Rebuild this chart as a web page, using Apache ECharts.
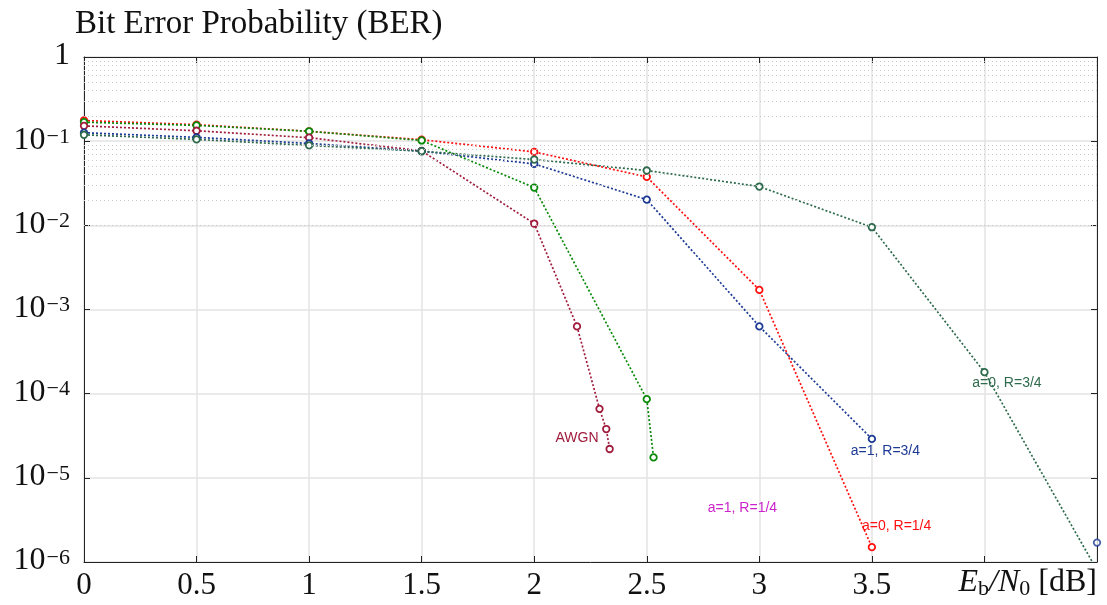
<!DOCTYPE html>
<html>
<head>
<meta charset="utf-8">
<script src="https://cdn.jsdelivr.net/npm/echarts@6/dist/echarts.min.js"></script>
<style>
html, body { margin: 0; padding: 0; background: #fff; }
#chart { width: 1107px; height: 605px; }
</style>
</head>
<body>
<div id="chart"></div>
<script>
// data (x in dB, y = BER)
var red_x = [0, 0.5, 1, 1.5, 2, 2.5, 3, 3.5];
var red_y = [0.176, 0.157, 0.131, 0.104, 0.0746, 0.0376, 0.00171, 1.5e-6];

var green_x = [0, 0.5, 1, 1.5, 2, 2.5, 2.53];
var green_y = [0.168, 0.154, 0.131, 0.102, 0.0281, 8.6e-5, 1.75e-5];

var awgn_x = [0, 0.5, 1, 1.5, 2, 2.19, 2.29, 2.32, 2.335];
var awgn_y = [0.152, 0.133, 0.11, 0.0767, 0.0105, 6.3e-4, 6.6e-5, 3.8e-5, 2.2e-5];

var blue_x = [0, 0.5, 1, 1.5, 2, 2.5, 3, 3.5];
var blue_y = [0.126, 0.111, 0.094, 0.076, 0.0537, 0.0202, 6.3e-4, 2.9e-5];
var blueExtra_x = [4.5];
var blueExtra_y = [1.7e-6];

var dgreen_x = [0, 0.5, 1, 1.5, 2, 2.5, 3, 3.5, 4, 4.5];
var dgreen_y = [0.119, 0.105, 0.089, 0.076, 0.0605, 0.0448, 0.0289, 0.0095, 1.8e-4, 8e-7];

// minor grid values 2..9 x 10^k
var minorGrid = [];
for (var k = -6; k < 0; k++) {
	for (var m = 2; m <= 9; m++) {
		minorGrid.push(m * Math.pow(10, k));
	}
}

function pairs(xs, ys) {
	var out = [];
	for (var i = 0; i < xs.length; i++) out.push([xs[i], ys[i]]);
	return out;
}

function lineSeries(name, color, xs, ys, label) {
	var s = {
		name: name,
		type: 'line',
		data: pairs(xs, ys),
		symbol: 'circle',
		symbolSize: 6.5,
		showSymbol: true,
		itemStyle: { color: '#fff', borderColor: color, borderWidth: 1.8 },
		lineStyle: { color: color, width: 1.7, type: [2, 2] },
		clip: true,
		z: 3
	};
	if (label) {
		s.markPoint = {
			symbol: 'circle',
			symbolSize: 0,
			silent: true,
			data: [{
				coord: label.coord,
				label: {
					show: true,
					formatter: label.text,
					color: label.color || color,
					fontFamily: 'Liberation Sans',
					fontSize: 14,
					position: 'inside'
				}
			}]
		};
	}
	return s;
}

var chart = echarts.init(document.getElementById('chart'));

var option = {
	animation: false,
	title: {
		text: 'Bit Error Probability (BER)',
		left: 70,
		top: 3,
		textStyle: {
			fontFamily: 'Liberation Serif',
			fontSize: 33,
			fontWeight: 'normal',
			color: '#111'
		}
	},
	grid: { left: 84, right: 10, top: 57, bottom: 43 },
	xAxis: [{
		type: 'value',
		min: 0,
		max: 4.5,
		interval: 0.5,
		axisLine: { show: true, onZero: false, lineStyle: { color: '#222', width: 1 } },
		axisTick: { show: true, inside: true, length: 6, lineStyle: { color: '#222' } },
		axisLabel: {
			margin: 8,
			fontFamily: 'Liberation Serif',
			fontSize: 31,
			color: '#111',
			formatter: function(v) {
				if (v >= 4) return '';
				return String(v);
			}
		},
		splitLine: { show: true, lineStyle: { color: '#e3e3e3', width: 1.5 } }
	}, {
		type: 'value',
		position: 'top',
		min: 0,
		max: 4.5,
		interval: 0.5,
		axisLine: { show: true, onZero: false, lineStyle: { color: '#222', width: 1 } },
		axisTick: { show: true, inside: true, length: 6, lineStyle: { color: '#222' } },
		axisLabel: { show: false },
		splitLine: { show: false }
	}],
	yAxis: [{
		type: 'log',
		logBase: 10,
		min: 1e-6,
		max: 1,
		axisLine: { show: true, onZero: false, lineStyle: { color: '#222', width: 1 } },
		axisTick: { show: true, inside: true, length: 6, lineStyle: { color: '#222' } },
		axisLabel: {
			margin: 14,
			color: '#111',
			formatter: function(v) {
				var e = Math.round(Math.log(v) / Math.LN10);
				if (e === 0) return '{b|1}';
				return '{b|10}{s|\u2212' + (-e) + '}';
			},
			rich: {
				b: { fontFamily: 'Liberation Serif', fontSize: 32, color: '#111', verticalAlign: 'bottom', lineHeight: 30 },
				s: { fontFamily: 'Liberation Serif', fontSize: 22, color: '#111', verticalAlign: 'top', lineHeight: 30, padding: [0, 0, 14, 1] }
			}
		},
		splitLine: { show: true, lineStyle: { color: '#e3e3e3', width: 1.5 } }
	}, {
		type: 'log',
		logBase: 10,
		min: 1e-6,
		max: 1,
		position: 'right',
		axisLine: { show: true, onZero: false, lineStyle: { color: '#222', width: 1 } },
		axisTick: { show: true, inside: true, length: 6, lineStyle: { color: '#222' } },
		axisLabel: { show: false },
		splitLine: { show: false }
	}],
	graphic: [{
		type: 'text',
		right: 10,
		top: 567,
		style: {
			rich: {
				i: { fontFamily: 'Liberation Serif', fontStyle: 'italic', fontSize: 32, fill: '#111' },
				sub: { fontFamily: 'Liberation Serif', fontSize: 22, fill: '#111', padding: [12, 0, 0, 0] },
				r: { fontFamily: 'Liberation Serif', fontSize: 32, fill: '#111' }
			},
			text: '{i|E}{sub|b}{i|/N}{sub|0}{r| [dB]}'
		}
	}],
	series: [
		{
			name: 'minor grid',
			type: 'line',
			data: [],
			silent: true,
			markLine: {
				silent: true,
				symbol: ['none', 'none'],
				label: { show: false },
				lineStyle: { color: '#c8c8c8', width: 1, type: [1, 3] },
				data: minorGrid.map(function(v) { return { yAxis: v }; })
			},
			z: 1
		},
		lineSeries('a=0, R=1/4', '#ff1010', red_x, red_y, { coord: [3.61, 2.7e-6], text: 'a=0, R=1/4' }),
		lineSeries('a=1, R=1/4', '#0a8a0a', green_x, green_y, { coord: [2.925, 4.4e-6], text: 'a=1, R=1/4', color: '#cc22cc' }),
		lineSeries('AWGN', '#a01c3c', awgn_x, awgn_y, { coord: [2.19, 3.0e-5], text: 'AWGN' }),
		lineSeries('a=1, R=3/4', '#1c3a94', blue_x, blue_y, { coord: [3.56, 2.1e-5], text: 'a=1, R=3/4' }),
		lineSeries('a=0, R=3/4', '#2e6a4c', dgreen_x, dgreen_y, { coord: [4.1, 1.35e-4], text: 'a=0, R=3/4' }),
		{
			name: 'a=1, R=3/4 extra',
			type: 'scatter',
			data: pairs(blueExtra_x, blueExtra_y),
			symbol: 'circle',
			symbolSize: 6.5,
			itemStyle: { color: '#fff', borderColor: '#1c3a94', borderWidth: 1.8 },
			clip: false,
			z: 3
		}
	]
};

chart.setOption(option);
</script>
</body>
</html>
